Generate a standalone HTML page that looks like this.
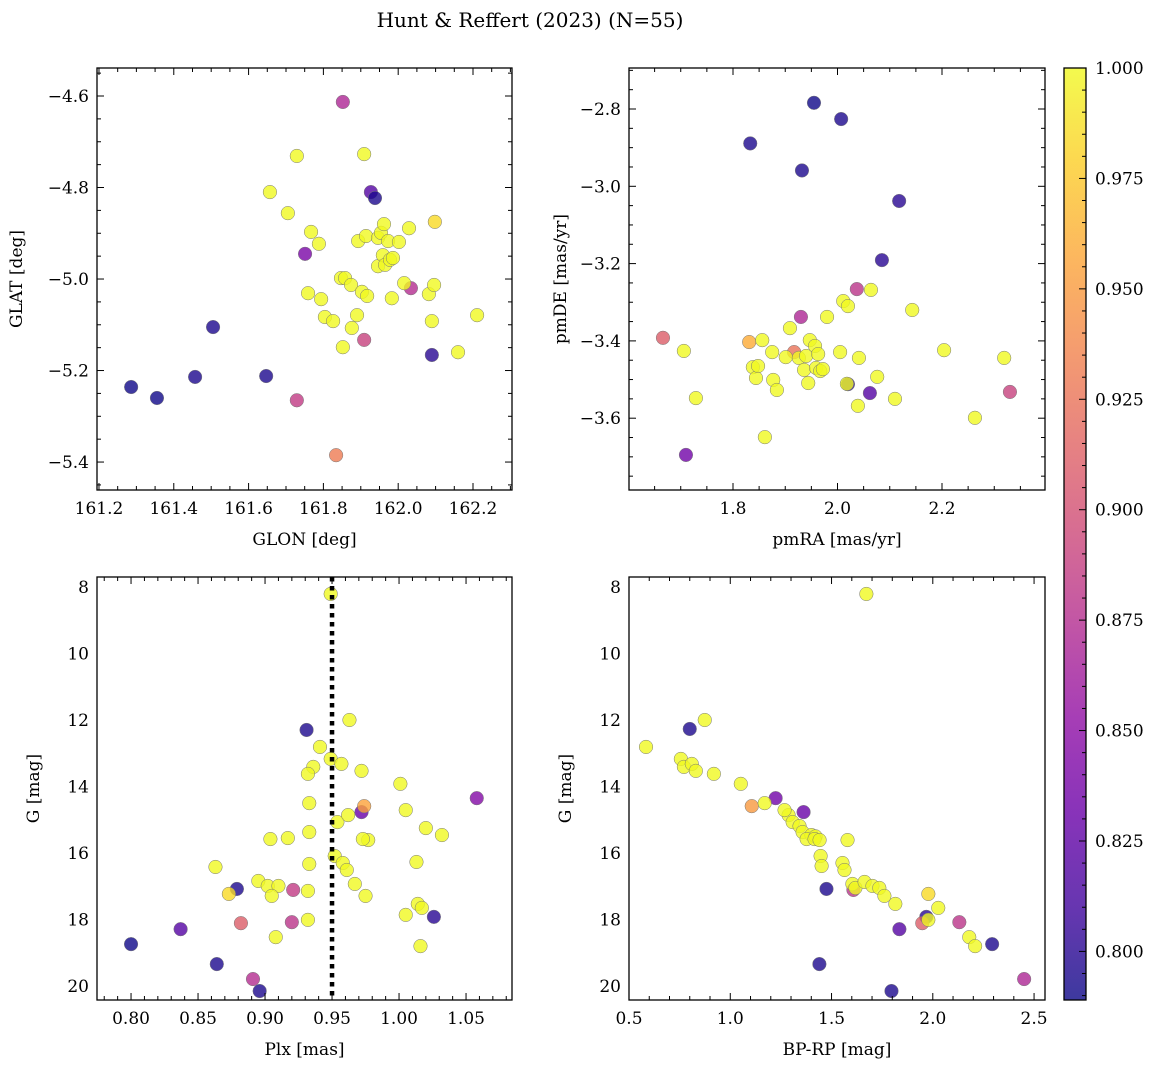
<!DOCTYPE html>
<html><head><meta charset="utf-8">
<style>
html,body{margin:0;padding:0;background:#fff;}
svg{display:block;font-family:"DejaVu Serif","Liberation Serif",serif;}
</style></head>
<body>
<svg id="fig" width="1161" height="1067" viewBox="0 0 1161 1067" xmlns="http://www.w3.org/2000/svg">
<text x="530" y="27" text-anchor="middle" font-size="20">Hunt &amp; Reffert (2023) (N=55)</text>
</svg>
<script>
// Panel 1: GLON / GLAT / membership probability
const p1Lon=[161.286,161.355,161.457,161.505,161.647,161.927,161.938,162.090,161.751,161.852,161.729,161.909,162.034,161.834,
161.729,161.657,161.705,161.767,161.788,161.759,161.794,161.804,161.826,161.847,161.858,161.852,161.876,161.874,161.890,161.893,161.903,161.909,161.914,161.917,161.946,161.946,161.954,161.962,161.959,161.965,161.973,161.978,161.986,162.002,161.983,162.016,162.029,162.082,162.098,162.090,162.096,162.160,162.211];
const p1Lat=[-5.236,-5.260,-5.214,-5.105,-5.212,-4.810,-4.823,-5.166,-4.945,-4.613,-5.265,-5.133,-5.020,-5.385,
-4.731,-4.810,-4.856,-4.897,-4.923,-5.031,-5.044,-5.083,-5.092,-4.998,-4.998,-5.149,-5.107,-5.013,-5.079,-4.917,-5.028,-4.727,-4.906,-5.037,-4.910,-4.972,-4.899,-4.880,-4.948,-4.969,-4.917,-4.958,-4.954,-4.919,-5.042,-5.009,-4.889,-5.033,-4.875,-5.092,-5.013,-5.160,-5.079];
const p1Prob=[0.79,0.79,0.795,0.795,0.795,0.82,0.795,0.80,0.84,0.87,0.885,0.89,0.875,0.93,
1,1,1,1,1,1,1,1,1,1,1,1,1,1,1,1,1,1,1,1,1,1,1,1,1,1,1,1,1,1,1,1,1,1,0.985,1,1,1,1];
// Panel 2: pmRA / pmDE
const p2RA=[1.955,1.833,1.932,2.007,2.118,2.085,2.062,1.710,2.020,1.930,2.037,2.330,1.666,1.917,1.831,
1.706,1.729,1.856,1.838,1.844,1.848,1.861,1.877,1.875,1.884,1.901,1.909,1.926,1.936,1.940,1.944,1.947,1.957,1.959,1.963,1.967,1.972,1.980,2.005,2.011,2.020,2.039,2.041,2.064,2.076,2.110,2.143,2.204,2.263,2.319,2.018];
const p2DE=[-2.784,-2.889,-2.959,-2.826,-3.038,-3.191,-3.535,-3.695,-3.512,-3.338,-3.266,-3.532,-3.392,-3.429,-3.403,
-3.426,-3.548,-3.398,-3.468,-3.496,-3.465,-3.649,-3.501,-3.429,-3.527,-3.442,-3.367,-3.444,-3.475,-3.439,-3.509,-3.398,-3.413,-3.470,-3.434,-3.478,-3.473,-3.338,-3.429,-3.297,-3.310,-3.568,-3.444,-3.268,-3.493,-3.550,-3.320,-3.424,-3.599,-3.444,-3.511];
const p2Prob=[0.79,0.795,0.795,0.795,0.80,0.80,0.82,0.835,0.80,0.87,0.88,0.89,0.91,0.925,0.96,
1,1,1,1,1,1,1,1,1,1,1,1,1,1,1,1,1,1,1,1,1,1,1,1,1,1,1,1,1,1,1,1,1,1,1,1];
// Panel 3: Plx / G
const p3Plx=[0.800,0.837,0.864,0.879,0.896,0.931,1.026,0.972,1.058,0.891,0.921,0.920,0.882,0.974,0.873,
0.949,0.963,0.941,0.949,0.957,0.936,0.972,0.932,0.933,1.001,1.005,0.954,0.962,0.933,0.917,0.904,0.977,0.973,1.020,1.032,0.952,0.958,0.961,0.933,1.013,0.863,0.967,0.975,0.932,0.895,0.902,0.910,0.905,0.932,0.908,1.014,1.005,1.017,1.016];
const p3G=[18.74,18.29,19.34,17.08,20.15,12.30,17.92,14.77,14.35,19.79,17.11,18.08,18.11,14.59,17.23,
8.21,12.00,12.81,13.17,13.32,13.41,13.53,13.62,14.50,13.92,14.71,15.07,14.86,15.37,15.55,15.58,15.61,15.58,15.25,15.46,16.09,16.30,16.51,16.33,16.27,16.42,16.93,17.29,17.14,16.84,16.99,16.99,17.29,18.01,18.53,17.53,17.86,17.65,18.80];
const p3Prob=[0.79,0.82,0.795,0.795,0.795,0.795,0.80,0.83,0.845,0.875,0.885,0.88,0.91,0.955,0.985,
1,1,1,1,1,1,1,1,1,1,1,1,1,1,1,1,1,1,1,1,1,1,1,1,1,1,1,1,1,1,1,1,1,1,1,1,1,1,1];
// Panel 4: BP-RP / G
const p4BR=[0.800,1.475,1.440,1.796,2.293,1.968,1.224,1.362,1.608,1.835,1.948,2.131,2.451,1.106,
0.584,0.756,0.771,0.810,0.830,0.874,0.919,1.052,1.170,1.288,1.308,1.342,1.357,1.401,1.377,1.421,1.416,1.268,1.441,1.579,1.446,1.451,1.554,1.564,1.603,1.618,1.663,1.702,1.736,1.761,1.815,1.978,1.978,2.027,2.180,2.209,1.672];
const p4G=[12.27,17.08,19.34,20.15,18.74,17.92,14.35,14.77,17.11,18.29,18.11,18.08,19.79,14.59,
12.81,13.17,13.41,13.32,13.53,12.00,13.62,13.92,14.50,14.86,15.07,15.19,15.37,15.46,15.58,15.50,15.58,14.71,15.61,15.61,16.09,16.39,16.30,16.51,16.93,17.05,16.87,16.99,17.05,17.29,17.53,17.23,18.01,17.65,18.53,18.80,8.21];
const p4Prob=[0.795,0.795,0.795,0.795,0.795,0.80,0.835,0.83,0.88,0.82,0.91,0.88,0.87,0.95,
1,1,1,1,1,1,1,1,1,1,1,1,1,1,1,1,1,1,1,1,1,1,1,1,1,1,1,1,1,1,1,0.985,1,1,1,1,1];
// tick labels
const p1XTicks=["161.2","161.4","161.6","161.8","162.0","162.2"];
const p1YTicks=["−4.6","−4.8","−5.0","−5.2","−5.4"];
const p2XTicks=["1.8","2.0","2.2"];
const p2YTicks=["−2.8","−3.0","−3.2","−3.4","−3.6"];
const p3XTicks=["0.80","0.85","0.90","0.95","1.00","1.05"];
const gTicks=["8","10","12","14","16","18","20"];
const p4XTicks=["0.5","1.0","1.5","2.0","2.5"];
const cbTicks=["0.800","0.825","0.850","0.875","0.900","0.925","0.950","0.975","1.000"];
const plxRef=[0.95];

const NS="http://www.w3.org/2000/svg";
const svg=document.getElementById('fig');
function mk(tag,attrs,parent){const e=document.createElementNS(NS,tag);for(const k in attrs)e.setAttribute(k,attrs[k]);(parent||svg).appendChild(e);return e;}
const VMIN=0.789,VMAX=1.0;
const stops=[[13,8,135],[65,4,157],[106,0,168],[143,13,164],[177,42,144],[204,71,120],[225,100,98],[242,132,75],[252,166,54],[252,206,37],[240,249,33]];
function plasma(v){let t=(v-VMIN)/(VMAX-VMIN);t=Math.max(0,Math.min(1,t));const f=t*10,i=Math.min(9,Math.floor(f)),r=f-i;const a=stops[i],b=stops[i+1];return 'rgb('+[0,1,2].map(k=>Math.round(a[k]+(b[k]-a[k])*r)).join(',')+')';}

function panel(o){
  const g=mk('g',{});
  
  
  const sx=v=>o.x0+(v-o.xmin)/(o.xmax-o.xmin)*(o.x1-o.x0);
  const sy=v=>o.y0+(v-o.ymax)/(o.ymin-o.ymax)*(o.y1-o.y0);
  const pts=mk('g',{},g);
  
  
  for(let i=0;i<o.xs.length;i++){
    const c=mk('circle',{cx:sx(o.xs[i]),cy:sy(o.ys[i]),r:6.8,fill:plasma(o.ps[i]),'fill-opacity':0.8,stroke:'#777','stroke-width':0.5},pts);
    
    
  }
  if(o.extra)o.extra(g,sx,sy);
  const fr=mk('rect',{x:o.x0,y:o.y0,width:o.x1-o.x0,height:o.y1-o.y0,fill:'none',stroke:'#000','stroke-width':1.3},g);
  
  
  const eps=1e-9;
  for(let v=Math.ceil(o.xmin/o.xminor-eps)*o.xminor;v<=o.xmax+eps;v+=o.xminor){
    const X=sx(v);const maj=Math.abs(v/o.xmajor-Math.round(v/o.xmajor))<1e-6;const L=maj?7:4;
    mk('line',{x1:X,x2:X,y1:o.y1,y2:o.y1-L,stroke:'#000','stroke-width':1},g);
    mk('line',{x1:X,x2:X,y1:o.y0,y2:o.y0+L,stroke:'#000','stroke-width':1},g);
  }
  o.xt.forEach((t,i)=>{const v=o.xt0+i*o.xmajor;const tx=mk('text',{x:sx(v),y:o.y1+24,'text-anchor':'middle','font-size':17},g);tx.textContent=t;
    });
  for(let v=Math.ceil(o.ymin/o.yminor-eps)*o.yminor;v<=o.ymax+eps;v+=o.yminor){
    const Y=sy(v);if(Y<o.y0-0.5||Y>o.y1+0.5)continue;const maj=Math.abs(v/o.ymajor-Math.round(v/o.ymajor))<1e-6;const L=maj?7:4;
    mk('line',{x1:o.x0,x2:o.x0+L,y1:Y,y2:Y,stroke:'#000','stroke-width':1},g);
    mk('line',{x1:o.x1,x2:o.x1-L,y1:Y,y2:Y,stroke:'#000','stroke-width':1},g);
  }
  o.yt.forEach((t,i)=>{const v=o.yt0+i*o.ystep;const tx=mk('text',{x:o.x0-8,y:sy(v)+6,'text-anchor':'end','font-size':17},g);tx.textContent=t;
    });
  const xl=mk('text',{x:(o.x0+o.x1)/2,y:o.y1+55,'text-anchor':'middle','font-size':17},g);xl.textContent=o.xlabel;
  
  const yx=o.x0-o.ylOff,yy=(o.y0+o.y1)/2;
  const yl=mk('text',{x:yx,y:yy,'text-anchor':'middle','font-size':17,transform:'rotate(-90 '+yx+' '+yy+')'},g);yl.textContent=o.ylabel;
  
}
const topRow={y0:68,y1:490},botRow={y0:577,y1:1000};
panel({name:'glon-glat-panel',x0:97,x1:512,y0:topRow.y0,y1:topRow.y1,xmin:161.1947,xmax:162.3043,ymin:-5.4611,ymax:-4.5388,
 xs:p1Lon,ys:p1Lat,ps:p1Prob,xmajor:0.2,xminor:0.05,ymajor:0.2,yminor:0.05,xt:p1XTicks,xt0:161.2,yt:p1YTicks,yt0:-4.6,ystep:-0.2,
 xlabel:'GLON [deg]',ylabel:'GLAT [deg]',ylOff:75});
panel({name:'pm-panel',x0:629,x1:1045,y0:topRow.y0,y1:topRow.y1,xmin:1.6010,xmax:2.3971,ymin:-3.7858,ymax:-2.6939,
 xs:p2RA,ys:p2DE,ps:p2Prob,xmajor:0.2,xminor:0.05,ymajor:0.2,yminor:0.05,xt:p2XTicks,xt0:1.8,yt:p2YTicks,yt0:-2.8,ystep:-0.2,
 xlabel:'pmRA [mas/yr]',ylabel:'pmDE [mas/yr]',ylOff:63});
panel({name:'plx-g-panel',x0:97,x1:512,y0:botRow.y0,y1:botRow.y1,xmin:0.7746,xmax:1.0843,ymin:20.42,ymax:7.70,
 xs:p3Plx,ys:p3G,ps:p3Prob,xmajor:0.05,xminor:0.01,ymajor:2,yminor:0.5,xt:p3XTicks,xt0:0.80,yt:gTicks,yt0:8,ystep:2,
 xlabel:'Plx [mas]',ylabel:'G [mag]',ylOff:58,
 extra:(g,sx,sy)=>{plxRef.forEach(v=>{const l=mk('line',{x1:sx(v),x2:sx(v),y1:botRow.y0,y2:botRow.y1,stroke:'#000','stroke-width':4.5,'stroke-dasharray':'4.5 4.5'},g);
   });}});
panel({name:'cmd-panel',x0:629,x1:1045,y0:botRow.y0,y1:botRow.y1,xmin:0.5,xmax:2.554,ymin:20.42,ymax:7.70,
 xs:p4BR,ys:p4G,ps:p4Prob,xmajor:0.5,xminor:0.1,ymajor:2,yminor:0.5,xt:p4XTicks,xt0:0.5,yt:gTicks,yt0:8,ystep:2,
 xlabel:'BP-RP [mag]',ylabel:'G [mag]',ylOff:58});

(function(){
  const x0=1064,x1=1086,y0=68,y1=1000;
  const g=mk('g',{});
  
  
  const defs=mk('defs',{},g);
  const lg=mk('linearGradient',{id:'cbg',x1:0,y1:1,x2:0,y2:0},defs);
  for(let i=0;i<=20;i++){const v=VMIN+(VMAX-VMIN)*i/20;mk('stop',{offset:(i/20),'stop-color':plasma(v),'stop-opacity':0.8},lg);}
  mk('rect',{x:x0,y:y0,width:x1-x0,height:y1-y0,fill:'url(#cbg)',stroke:'#000','stroke-width':1.3},g);
  const sy=v=>y1-(v-VMIN)/(VMAX-VMIN)*(y1-y0);
  for(let k=158;k<=200;k++){const v=k*0.005;const Y=sy(v);if(Y<y0-0.5||Y>y1)continue;const maj=(k%5===0);
    mk('line',{x1:x1,x2:x1-(maj?7:4),y1:Y,y2:Y,stroke:'#000','stroke-width':1},g);}
  cbTicks.forEach((t,i)=>{const v=0.8+i*0.025;const tx=mk('text',{x:x1+9,y:sy(v)+6,'font-size':17},g);tx.textContent=t;
    });
})();
</script>
</body></html>
